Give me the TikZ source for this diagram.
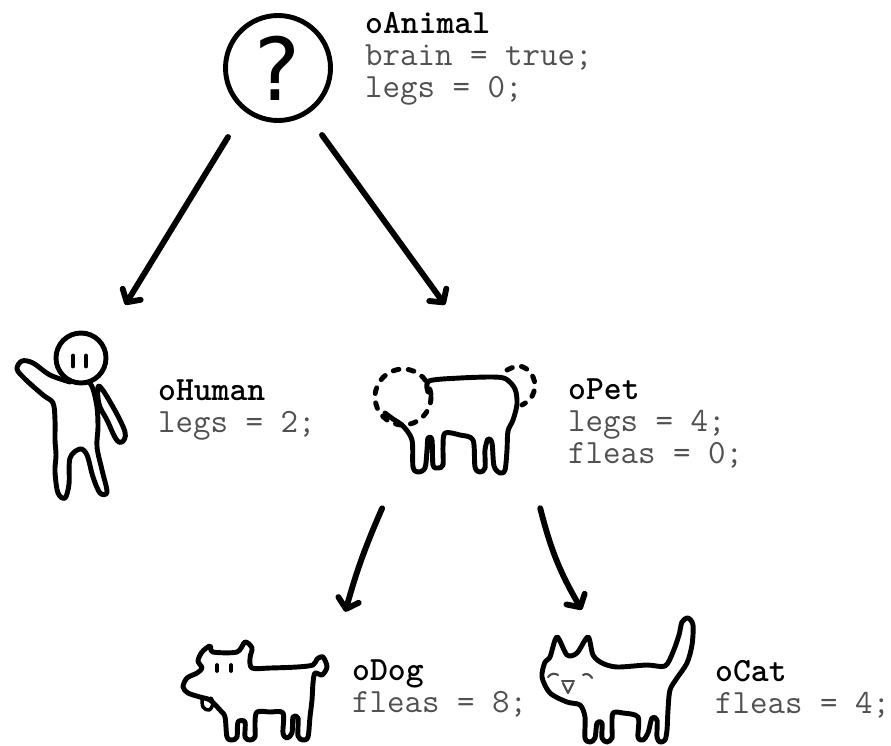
\documentclass[tikz,border=0pt]{standalone}
\usepackage{fontspec}
\usepackage{xcolor}
\usepackage{tikz}
\usetikzlibrary{arrows.meta}
\usetikzlibrary{positioning}
\usetikzlibrary{fit}
\usetikzlibrary{calc}
\newfontfamily\qmarkfont{DejaVu Sans}
\definecolor{attrgray}{HTML}{505050}
\tikzset{
    doodle/.style={draw=black, line width=4.2pt, line cap=round, line join=round},
    dottedline/.style={doodle, dash pattern=on 5pt off 8pt},
    faceline/.style={draw=black!70, line width=1.8pt, line cap=round, line join=round},
    figbox/.style={inner sep=0pt, draw=none},
    classtext/.style={anchor=base west, align=left, inner sep=0pt,
        font=\ttfamily\fontsize{29}{27.3}\selectfont},
}
\tikzstyle{inherit} = [draw=black, line width=5pt, line cap=round, -{Straight Barb[length=8pt,width=18pt,round]}]
\newcommand{\attr}[1]{{\color{attrgray}#1}}

\begin{document}
\begin{tikzpicture}[x=0.03cm, y=-0.03cm]
	\useasboundingbox (0,0) rectangle (891,745);
	% base class
	\node[doodle, circle, minimum size=3.15cm, inner sep=0pt] (animal) at (278,68)
		{\qmarkfont\fontsize{74}{74}\selectfont ?};
	\node[classtext] (animal-txt) at (365,97) {\textbf{oAnimal}\\\attr{brain = true;}\\\attr{legs = 0;}};

	% human
	\draw[doodle] (81,358) circle[radius=25];
	\draw[doodle] (73,356) -- (73,366);
	\draw[doodle] (86,356) -- (86,366);
	\draw[doodle] plot[smooth, tension=0.55] coordinates {(70,382) (50,375) (33,363) (22,361) (17,369) (25,379) (43,395) (53,403) (55,420) (55,440) (56,455) (55,472) (58,493) (65,498) (69,484) (70,458) (80,449) (87,455) (93,477) (100,493) (107,492) (102,470) (97,447) (98,427) (97,407) (93,389) (89,382)};
	\draw[doodle] plot[smooth cycle, tension=0.6] coordinates {(99,386) (113,407) (125,432) (122,442) (116,439) (107,420) (99,404)};
	\node[figbox, fit={(15,305) (125,500)}] (human) {};
	\node[classtext] (human-txt) at (158,432) {\textbf{oHuman}\\\attr{legs = 2;}};

	% pet
	\draw[dottedline] (403,397) circle[radius=28];
	\draw[dottedline] plot[smooth, tension=0.6] coordinates {(507,370) (519,366) (530,372) (535,385) (531,398) (522,405)};
	\draw[doodle] plot[smooth, tension=0.5] coordinates {(428,392) (429,381) (460,378) (493,377) (506,379) (515,389) (517,404) (513,420) (508,431) (507,450) (505,470) (500,473) (494,466) (492,443) (488,439) (485,450) (485,468) (480,472) (475,467) (473,440) (460,435) (445,433) (443,447) (443,465) (438,468) (433,465) (432,440) (428,438) (427,450) (425,468) (418,472) (413,467) (412,440) (403,426) (393,419) (385,413)};
	\node[figbox, fit={(350,305) (540,508)}] (pet) {};
	\node[classtext] (pet-txt) at (568,463) {\textbf{oPet}\\\attr{legs = 4;}\\\attr{fleas = 0;}};

	% dog
	\draw[doodle] plot[smooth cycle, tension=0.5] coordinates {(202,652) (210,646) (213,652) (237,652) (245,642) (252,648) (250,658) (252,668) (270,668) (297,667) (313,665) (317,659) (323,657) (327,667) (322,675) (315,673) (313,683) (312,700) (310,717) (308,737) (303,740) (298,736) (298,718) (293,717) (292,733) (287,738) (283,733) (283,713) (270,712) (257,712) (255,723) (255,737) (250,740) (245,737) (245,722) (238,722) (237,737) (232,740) (227,737) (225,717) (220,710) (210,700) (200,697) (188,693) (183,687) (187,678) (197,673) (202,668) (198,661)};
	\draw[doodle, line width=3pt] plot[smooth, tension=0.6] coordinates {(202,698) (203,707) (209,710) (213,704) (211,698)};
	\draw[doodle, line width=3.2pt] (217,665) -- (217,671);
	\draw[doodle, line width=3.2pt] (231,665) -- (231,671);
	\node[figbox, fit={(180,612) (345,745)}] (dog) {};
	\node[classtext] (dog-txt) at (352,712) {\textbf{oDog}\\\attr{fleas = 8;}};

	% cat
	\draw[doodle] plot[smooth cycle, tension=0.5] coordinates {(550,657) (557,637) (567,655) (577,653) (588,637) (593,655) (602,663) (617,667) (647,665) (665,666) (673,652) (679,635) (682,622) (688,618) (693,625) (692,645) (687,663) (677,678) (670,690) (668,710) (667,730) (665,740) (660,742) (657,737) (657,720) (652,718) (648,733) (643,740) (638,737) (638,717) (623,713) (613,713) (612,727) (612,738) (607,742) (602,738) (602,723) (597,723) (595,738) (590,742) (585,738) (585,717) (580,705) (567,702) (550,693) (542,677) (545,662)};
	\draw[faceline] (548,677) .. controls (551,673) and (555,673) .. (558,675);
	\draw[faceline] (583,675) .. controls (586,673) and (590,674) .. (592,678);
	\draw[faceline] (562,681) -- (574,681);
	\draw[faceline] (563,683) -- (568,693) -- (573,683);
	\node[figbox, fit={(540,610) (695,745)}] (cat) {};
	\node[classtext] (cat-txt) at (715,713) {\textbf{oCat}\\\attr{fleas = 4;}};

	% inheritance
	\draw[inherit] ($(animal.center)+(-50,69)$) -- (human.north east);
	\draw[inherit] ($(animal.center)+(44,67)$) -- (pet.north);
	\draw[inherit] ($(pet.south west)!0.17!(pet.south east)$) to[bend right=4] (dog.north east);
	\draw[inherit] ($(pet.south west)!1!(pet.south east)$) to[bend right=8] ($(cat.north west)!0.27!(cat.north east)$);
\end{tikzpicture}
\end{document}
